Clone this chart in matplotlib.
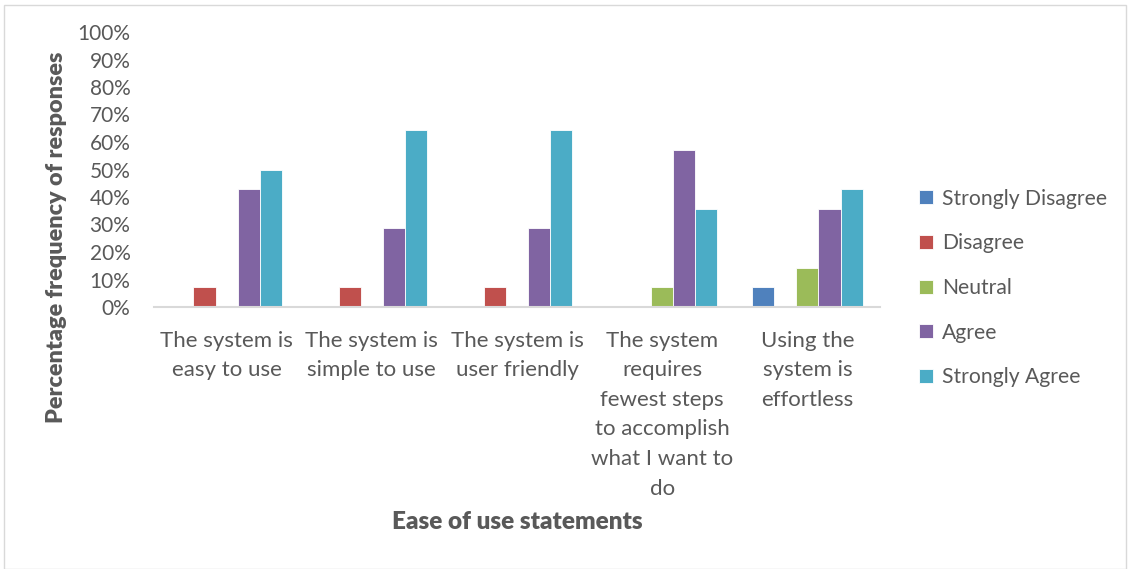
import numpy as np
import matplotlib
matplotlib.use("Agg")
import matplotlib.pyplot as plt
from matplotlib.patches import Rectangle

plt.rcParams['font.family'] = ['Lato', 'DejaVu Sans']

categories = ["The system is\neasy to use", "The system is\nsimple to use", "The system is\nuser friendly",
              "The system\nrequires\nfewest steps\nto accomplish\nwhat I want to\ndo",
              "Using the\nsystem is\neffortless"]
series = ["Strongly Disagree", "Disagree", "Neutral", "Agree", "Strongly Agree"]
strongly_disagree = [0, 0, 0, 0, 7.14]
disagree = [7.14, 7.14, 7.14, 0, 0]
neutral = [0, 0, 0, 7.14, 14.29]
agree = [42.86, 28.57, 28.57, 57.14, 35.71]
strongly_agree = [50.0, 64.29, 64.29, 35.71, 42.86]
values = [strongly_disagree, disagree, neutral, agree, strongly_agree]
colors = ["#4F81BD", "#C0504D", "#9BBB59", "#8064A2", "#4BACC6"]
text_col = "#595959"

fig = plt.figure(figsize=(11.3, 5.69), dpi=100)
W, H = 1130, 569
ax = fig.add_axes([154 / W, 1 - 307 / H, (880 - 154) / W, (307 - 32) / H])

x = np.arange(len(categories))
bw = 0.152
for i, (name, vals) in enumerate(zip(series, values)):
    ax.bar(x + (i - 2) * bw, np.array(vals) / 100, bw, color=colors[i], label=name,
           edgecolor="white", linewidth=0.6)

ax.set_xlim(-0.5, len(categories) - 0.5)
ax.set_ylim(0, 1)
ax.set_yticks(np.arange(0, 1.01, 0.1))
ax.set_yticklabels([f"{int(round(v * 100))}%" for v in np.arange(0, 1.01, 0.1)], fontsize=15)
ax.set_xticks(x)
ax.set_xticklabels(categories, linespacing=1.6, fontsize=16)
ax.tick_params(length=0, colors=text_col)
ax.tick_params(axis='y', pad=17)
ax.tick_params(axis='x', pad=17)
for s in ["top", "right", "left"]:
    ax.spines[s].set_visible(False)
ax.spines["bottom"].set_color("#D9D9D9")
ax.spines["bottom"].set_linewidth(1.5)

fig.text(57 / W, 1 - 237 / H, "Percentage frequency of responses", rotation=90, ha="center", va="center",
         fontsize=16.8, fontweight="heavy", color=text_col)
fig.text(517 / W, 1 - 522 / H, "Ease of use statements", ha="center", va="center",
         fontsize=17.5, fontweight="heavy", color=text_col)

leg = fig.legend(loc="center left", bbox_to_anchor=(919 / W, 1 - 288 / H), frameon=False,
                 borderaxespad=0, borderpad=0,
                 fontsize=15.2, labelspacing=1.17, handlelength=0.65, handleheight=0.65,
                 handletextpad=0.45, labelcolor=text_col)

fig.patches.append(Rectangle((4 / W, 0), 1 - 8 / W, 1 - 5 / H, transform=fig.transFigure,
                             fill=False, edgecolor="#D9D9D9", linewidth=1))

fig.savefig("out.png", dpi=100)
